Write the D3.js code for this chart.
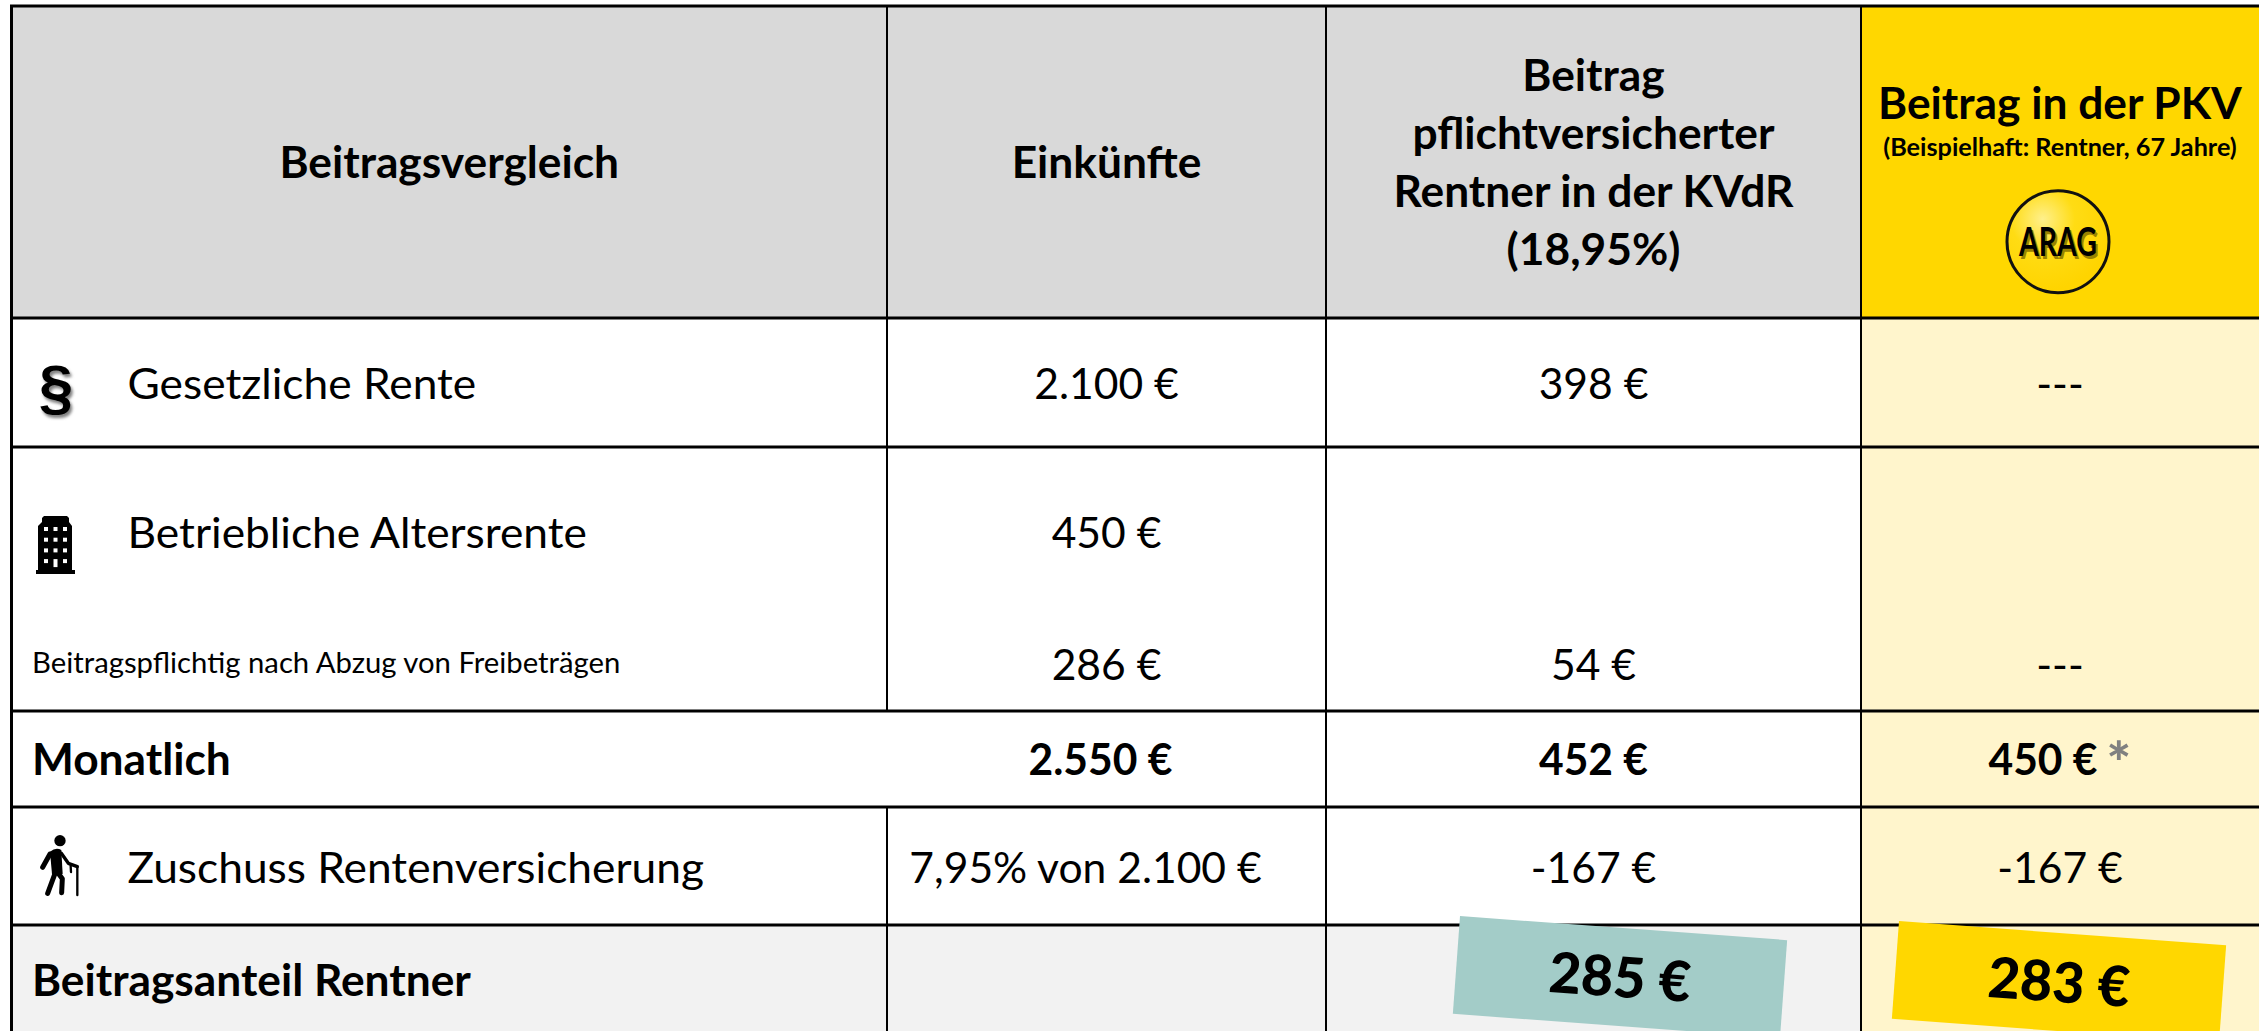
<!DOCTYPE html>
<html lang="de">
<head>
<meta charset="utf-8">
<title>Beitragsvergleich</title>
<script src="https://cdn.jsdelivr.net/npm/d3@7"></script>
<style>
  html, body { margin: 0; padding: 0; background: #fff; overflow: hidden; }
  svg { display: block; }
  text { font-family: Lato, "Open Sans", sans-serif; fill: #000; }
</style>
</head>
<body>
<main></main>
<script>
/************************************************************************
 Data
************************************************************************/
const rowKeys = ['gesetzlich', 'betrieblich', 'pflichtig', 'monatlich', 'zuschuss', 'anteil'];
const rowLabels = ['Gesetzliche Rente', 'Betriebliche Altersrente', 'Beitragspflichtig nach Abzug von Freibeträgen', 'Monatlich', 'Zuschuss Rentenversicherung', 'Beitragsanteil Rentner'];
const incomeValues = ['2.100 €', '450 €', '286 €', '2.550 €', '7,95% von 2.100 €', ''];
const kvdrValues = ['398 €', '', '54 €', '452 €', '-167 €', ''];
const pkvValues = ['---', '', '---', '450 €', '-167 €', ''];
const headerFirst = 'Beitragsvergleich';
const headerIncome = 'Einkünfte';
const headerKvdr = ['Beitrag', 'pflichtversicherter', 'Rentner in der KVdR', '(18,95%)'];
const headerPkv = 'Beitrag in der PKV';
const headerPkvSub = '(Beispielhaft: Rentner, 67 Jahre)';
const totals = ['285 €', '283 €'];

// constants
const width = 2259;
const height = 1031;
const fontSize = 43;
const labelStretch = 1.03; // the source font is a bit wider than Lato at the same height
const valueStretch = 0.99; // its digits are narrower though
const boldRows = ['monatlich', 'anteil'];

const svg = d3.select('main')
  .append('svg')
  .attr('width', width)
  .attr('height', height);

/************************************************************************
 Scales, column and row edges of the table
************************************************************************/
const xScale = d3.scaleLinear()
  .domain([0, 1, 2, 3, 4])
  .range([11.5, 887, 1326, 1861, 2259]);

const yScale = d3.scaleLinear()
  .domain([0, 1, 2, 3, 4, 5, 6, 7])
  .range([6, 318, 447, 620, 711, 807, 925, 1040]);

const columnCenter = i => (xScale(i) + xScale(i + 1)) / 2;
const labelBaseline = d3.scaleOrdinal(rowKeys, [399, 548, 673, 775, 883, 996]);
const valueBaseline = d3.scaleOrdinal(rowKeys, [399, 548, 680, 775, 883, 996]);

/************************************************************************
 Cell backgrounds
************************************************************************/
const fills = [
  { col: 0, span: 3, from: 0, to: 1, color: '#D9D9D9' },
  { col: 3, span: 1, from: 0, to: 1, color: '#FFD700' },
  { col: 3, span: 1, from: 1, to: 6, color: '#FFF5CC' },
  { col: 0, span: 3, from: 6, to: 7, color: '#F2F2F2' },
  { col: 3, span: 1, from: 6, to: 7, color: '#FFF5CC' }
];

svg.selectAll('rect.cell')
  .data(fills)
  .enter()
  .append('rect')
  .attr('class', 'cell')
  .attr('x', d => xScale(d.col))
  .attr('y', d => yScale(d.from))
  .attr('width', d => xScale(d.col + d.span) - xScale(d.col))
  .attr('height', d => yScale(d.to) - yScale(d.from))
  .attr('fill', d => d.color);

/************************************************************************
 Grid lines, the Monatlich row has no line between label and income
************************************************************************/
const horizontalLines = [0, 1, 2, 4, 5, 6];
svg.selectAll('line.h')
  .data(horizontalLines)
  .enter()
  .append('line')
  .attr('class', 'h')
  .attr('x1', xScale(0) - 1.5)
  .attr('x2', width)
  .attr('y1', d => yScale(d))
  .attr('y2', d => yScale(d))
  .attr('stroke', '#000')
  .attr('stroke-width', 3);

svg.append('line')
  .attr('x1', xScale(0))
  .attr('x2', xScale(0))
  .attr('y1', yScale(0))
  .attr('y2', height)
  .attr('stroke', '#000')
  .attr('stroke-width', 3);

const verticalLines = [
  { col: 1, from: 0, to: 4 },
  { col: 1, from: 5, to: 7 },
  { col: 2, from: 0, to: 7 },
  { col: 3, from: 0, to: 7 }
];
svg.selectAll('line.v')
  .data(verticalLines)
  .enter()
  .append('line')
  .attr('class', 'v')
  .attr('x1', d => xScale(d.col))
  .attr('x2', d => xScale(d.col))
  .attr('y1', d => yScale(d.from))
  .attr('y2', d => yScale(d.to))
  .attr('stroke', '#000')
  .attr('stroke-width', 2);

/************************************************************************
 Texts
************************************************************************/
const stretch = (selection, factor) => {
  const length = selection.node().getComputedTextLength();
  if (length > 0) {
    selection
      .attr('textLength', length * factor)
      .attr('lengthAdjust', 'spacingAndGlyphs');
  }
  return selection;
};

const addText = (parent, content, x, y, size, bold, anchor, factor) => {
  const text = parent.append('text')
    .text(content)
    .attr('x', x)
    .attr('y', y)
    .attr('font-size', size)
    .attr('font-weight', bold ? 700 : 400)
    .attr('text-anchor', anchor);
  return stretch(text, factor);
};

addText(svg, headerFirst, columnCenter(0), 178, fontSize, true, 'middle', labelStretch);
addText(svg, headerIncome, columnCenter(1), 178, fontSize, true, 'middle', labelStretch);
headerKvdr.forEach((line, i) => addText(svg, line, columnCenter(2), 91 + i * 58, fontSize, true, 'middle', labelStretch));
addText(svg, headerPkv, columnCenter(3), 119, fontSize, true, 'middle', labelStretch);
addText(svg, headerPkvSub, columnCenter(3), 156, 24.5, true, 'middle', 1.03);

const smallLabel = key => key === 'pflichtig';
const plainLeft = key => ['pflichtig', 'monatlich', 'anteil'].includes(key);

rowKeys.forEach((key, i) => {
  const bold = boldRows.includes(key);
  addText(svg, rowLabels[i], plainLeft(key) ? 32 : 127.5, labelBaseline(key), smallLabel(key) ? 29 : fontSize, bold, 'start', smallLabel(key) ? 1.01 : labelStretch);

  // the income text of the Zuschuss row sits left of the column centre
  const incomeShift = key === 'zuschuss' ? -21 : (bold ? -6 : 0);
  addText(svg, incomeValues[i], columnCenter(1) + incomeShift, valueBaseline(key), fontSize, bold, 'middle', valueStretch);
  addText(svg, kvdrValues[i], columnCenter(2), valueBaseline(key), fontSize, bold, 'middle', valueStretch);

  if (key === 'monatlich') {
    // value and grey footnote star are centred together
    const pkv = addText(svg, pkvValues[i], columnCenter(3) - 17, valueBaseline(key), fontSize, bold, 'middle', valueStretch);
    const box = pkv.node().getBBox();
    svg.append('text')
      .text('*')
      .attr('x', box.x + box.width + 9)
      .attr('y', valueBaseline(key) + 9)
      .attr('font-size', 58)
      .attr('font-weight', 900)
      .style('fill', '#808080');
  } else {
    addText(svg, pkvValues[i], columnCenter(3), valueBaseline(key), fontSize, bold, 'middle', valueStretch);
  }
});

/************************************************************************
 Tilted stickers with the result
************************************************************************/
const stickers = [
  { cx: 1620, cy: 977, color: '#A3CCC8', label: totals[0] },
  { cx: 2059, cy: 982, color: '#FFD700', label: totals[1] }
];
stickers.forEach(s => {
  const g = svg.append('g')
    .attr('transform', `translate(${s.cx}, ${s.cy}) rotate(4.2)`);
  g.append('rect')
    .attr('x', -164)
    .attr('y', -49)
    .attr('width', 328)
    .attr('height', 98)
    .attr('fill', s.color);
  addText(g, s.label, 0, 20, 56, true, 'middle', 0.99)
    .attr('font-weight', 900);
});

/************************************************************************
 Icons and logo
************************************************************************/
const defs = svg.append('defs');
const blur = defs.append('filter').attr('id', 'soft').attr('x', '-30%').attr('y', '-30%').attr('width', '160%').attr('height', '160%');
blur.append('feGaussianBlur').attr('stdDeviation', 1.6);

// paragraph sign with a soft shadow
const addParagraph = () => svg.append('text')
  .text('§')
  .attr('x', 56)
  .attr('y', 408)
  .attr('text-anchor', 'middle')
  .attr('font-size', 62)
  .attr('font-weight', 700)
  .style('font-family', '"Liberation Sans"');
addParagraph().style('fill', '#808080').attr('transform', 'translate(2, 3)').attr('filter', 'url(#soft)');
addParagraph();

// office building
const building = svg.append('g');
building.append('path')
  .attr('d', 'M41,574 L36,574 L36,570 L38,570 L38,526 L42,522 L42,518 L44,516 L67,516 L69,518 L69,522 L72,526 L72,570 L75,570 L75,574 Z')
  .attr('fill', '#000');
d3.range(4).forEach(row => d3.range(3).forEach(col => {
  building.append('rect')
    .attr('x', 44 + col * 9.5)
    .attr('y', 527 + row * 10.7)
    .attr('width', 4)
    .attr('height', row === 3 && col === 1 ? 8 : 4)
    .attr('fill', '#fff');
}));

// walking person with a cane, drawn in the 3x zoom coordinates
const person = svg.append('g')
  .attr('transform', 'translate(0, 800) scale(0.3333)')
  .attr('fill', 'none')
  .attr('stroke', '#000')
  .attr('stroke-linecap', 'round')
  .attr('stroke-linejoin', 'round');
person.append('circle').attr('cx', 180).attr('cy', 122).attr('r', 17).attr('fill', '#000').attr('stroke', 'none');
person.append('path').attr('d', 'M150,155 Q168,140 184,150 L188,222 L156,222 Z').attr('fill', '#000').attr('stroke', 'none');
person.append('path').attr('d', 'M150,162 L128,202').attr('stroke-width', 15);
person.append('path').attr('d', 'M166,218 L143,280').attr('stroke-width', 15);
person.append('path').attr('d', 'M172,216 L187,236 L185,278').attr('stroke-width', 15);
person.append('path').attr('d', 'M184,160 L205,190 L232,200').attr('stroke-width', 10);
person.append('path').attr('d', 'M212,198 L213,216').attr('stroke-width', 7);
person.append('path').attr('d', 'M232,200 L232,285').attr('stroke-width', 7);

// ARAG logo
const gradient = defs.append('radialGradient')
  .attr('id', 'logoFill')
  .attr('cx', '35%')
  .attr('cy', '28%')
  .attr('r', '70%');
gradient.append('stop').attr('offset', '0%').attr('stop-color', '#FFF08C');
gradient.append('stop').attr('offset', '45%').attr('stop-color', '#FFDC14');
gradient.append('stop').attr('offset', '100%').attr('stop-color', '#FFD400');

const logo = svg.append('g').attr('transform', 'translate(2058, 241.7)');
logo.append('circle')
  .attr('r', 51)
  .attr('fill', 'url(#logoFill)')
  .attr('stroke', '#111')
  .attr('stroke-width', 3);
const addLogoText = (y, color) => logo.append('text')
  .text('ARAG')
  .attr('x', y > 15 ? 2 : 0)
  .attr('y', y)
  .attr('text-anchor', 'middle')
  .attr('font-size', 40)
  .attr('font-weight', 700)
  .attr('textLength', 78)
  .attr('lengthAdjust', 'spacingAndGlyphs')
  .style('fill', color);
addLogoText(17, '#9A8200');
addLogoText(14.5, '#000');
</script>
</body>
</html>
